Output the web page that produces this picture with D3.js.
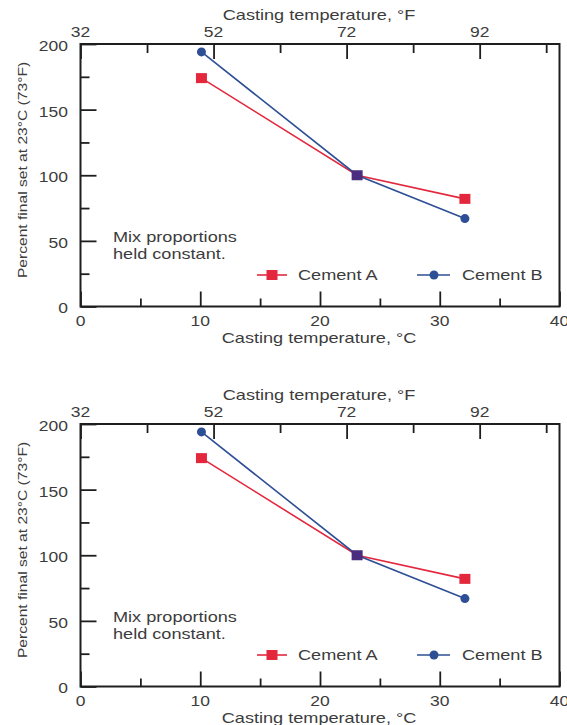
<!DOCTYPE html>
<html>
<head>
<meta charset="utf-8">
<script src="https://cdn.jsdelivr.net/npm/d3@7"></script>
<style>
  html, body { margin: 0; padding: 0; background: #fff; }
  text { font-family: "Liberation Sans", Arial, sans-serif; fill: #3c3c3c; }
</style>
</head>
<body>
<script>
// data
const tempC = [10.1, 23.1, 32.1]
const cementA = [174, 100, 82]
const cementB = [194, 100, 67]
const seriesNames = ['Cement A', 'Cement B']

const xTicksC = [0, 10, 20, 30, 40]
const xMinorC = [5, 15, 25, 35]
const xTicksF = [32, 52, 72, 92]
const xMinorF = [42, 62, 82, 102]
const yTicks = [0, 50, 100, 150, 200]
const yMinor = [25, 75, 125, 175]

const note = ['Mix proportions', 'held constant.']

const W = 567, H = 725
const SX = 1.25 // the figure's type is set wide
const red = '#e3283e', blue = '#2e4f95', both = '#4b2d7f', ink = '#1e1e1e'

const svg = d3.select('body').append('svg').attr('width', W).attr('height', H)

function label(g, x, y, s, anchor, size) {
  return g.append('text')
    .attr('transform', `translate(${x},${y}) scale(${SX},1)`)
    .attr('text-anchor', anchor)
    .attr('dy', '0.35em')
    .style('font-size', size + 'px')
    .text(s)
}

function drawChart(top) {
  const g = svg.append('g').attr('transform', `translate(0,${top})`)

  const x = d3.scaleLinear().domain([0, 40]).range([80.5, 559.5])
  const xF = d3.scaleLinear().domain([32, 104]).range(x.range())
  const y = d3.scaleLinear().domain([0, 200]).range([306.5, 44])

  const ticks = (gen, pos, vals, size) => g.append('g')
    .attr('transform', pos)
    .call(gen.tickValues(vals).tickSize(-size).tickFormat(''))
    .call(a => a.select('.domain').remove())
    .call(a => a.selectAll('line').attr('stroke', ink).attr('stroke-width', 1.8))

  ticks(d3.axisBottom(x), `translate(0,${y(0)})`, xTicksC, 15)
  ticks(d3.axisBottom(x), `translate(0,${y(0)})`, xMinorC, 8)
  ticks(d3.axisTop(xF), `translate(0,${y(200)})`, xTicksF, 15)
  ticks(d3.axisTop(xF), `translate(0,${y(200)})`, xMinorF, 9)
  ticks(d3.axisLeft(y), `translate(${x(0)},0)`, yTicks, 16)
  ticks(d3.axisLeft(y), `translate(${x(0)},0)`, yMinor, 9)

  g.append('rect')
    .attr('x', x(0)).attr('y', y(200))
    .attr('width', x(40) - x(0)).attr('height', y(0) - y(200))
    .attr('fill', 'none').attr('stroke', ink).attr('stroke-width', 2)

  xTicksC.forEach(v => label(g, x(v), y(0) + 15, v, 'middle', 14))
  xTicksF.forEach(v => label(g, xF(v), y(200) - 11.5, v, 'middle', 14))
  yTicks.forEach(v => label(g, x(0) - 12.5, y(v) + 2, v, 'end', 14))

  label(g, 319, 14.5, 'Casting temperature, °F', 'middle', 14.5)
  label(g, 319, y(0) + 31, 'Casting temperature, °C', 'middle', 14.5)

  g.append('text')
    .attr('transform', `translate(23,170) rotate(-90) scale(${SX},1)`)
    .attr('text-anchor', 'middle')
    .attr('dy', '0.35em')
    .style('font-size', '12.5px')
    .text('Percent final set at 23°C (73°F)')

  note.forEach((s, i) => label(g, 113, 237 + i * 17, s, 'start', 14.5))

  const line = d3.line().x((d, i) => x(tempC[i])).y(d => y(d))
  g.append('path').datum(cementA).attr('d', line)
    .attr('fill', 'none').attr('stroke', red).attr('stroke-width', 1.6)
  g.append('path').datum(cementB).attr('d', line)
    .attr('fill', 'none').attr('stroke', blue).attr('stroke-width', 1.6)

  cementA.forEach((v, i) => {
    if (v === cementB[i]) return
    g.append('rect').attr('x', x(tempC[i]) - 5.5).attr('y', y(v) - 5)
      .attr('width', 11).attr('height', 10).attr('fill', red)
  })
  cementB.forEach((v, i) => {
    if (v === cementA[i]) return
    g.append('circle').attr('cx', x(tempC[i])).attr('cy', y(v)).attr('r', 4.5).attr('fill', blue)
  })
  // where both cements land on the same point the marks overprint
  cementA.forEach((v, i) => {
    if (v !== cementB[i]) return
    g.append('rect').attr('x', x(tempC[i]) - 5.5).attr('y', y(v) - 5)
      .attr('width', 11).attr('height', 10).attr('fill', both)
  })

  // legend
  const ly = 275
  g.append('line').attr('x1', 257).attr('x2', 287).attr('y1', ly).attr('y2', ly)
    .attr('stroke', red).attr('stroke-width', 1.6)
  g.append('rect').attr('x', 266.5).attr('y', ly - 5).attr('width', 11).attr('height', 10).attr('fill', red)
  label(g, 298, ly, seriesNames[0], 'start', 14.5)

  g.append('line').attr('x1', 417).attr('x2', 450).attr('y1', ly).attr('y2', ly)
    .attr('stroke', blue).attr('stroke-width', 1.6)
  g.append('circle').attr('cx', 434).attr('cy', ly).attr('r', 4.5).attr('fill', blue)
  label(g, 462, ly, seriesNames[1], 'start', 14.5)
}

drawChart(0)
drawChart(380)
</script>
</body>
</html>
